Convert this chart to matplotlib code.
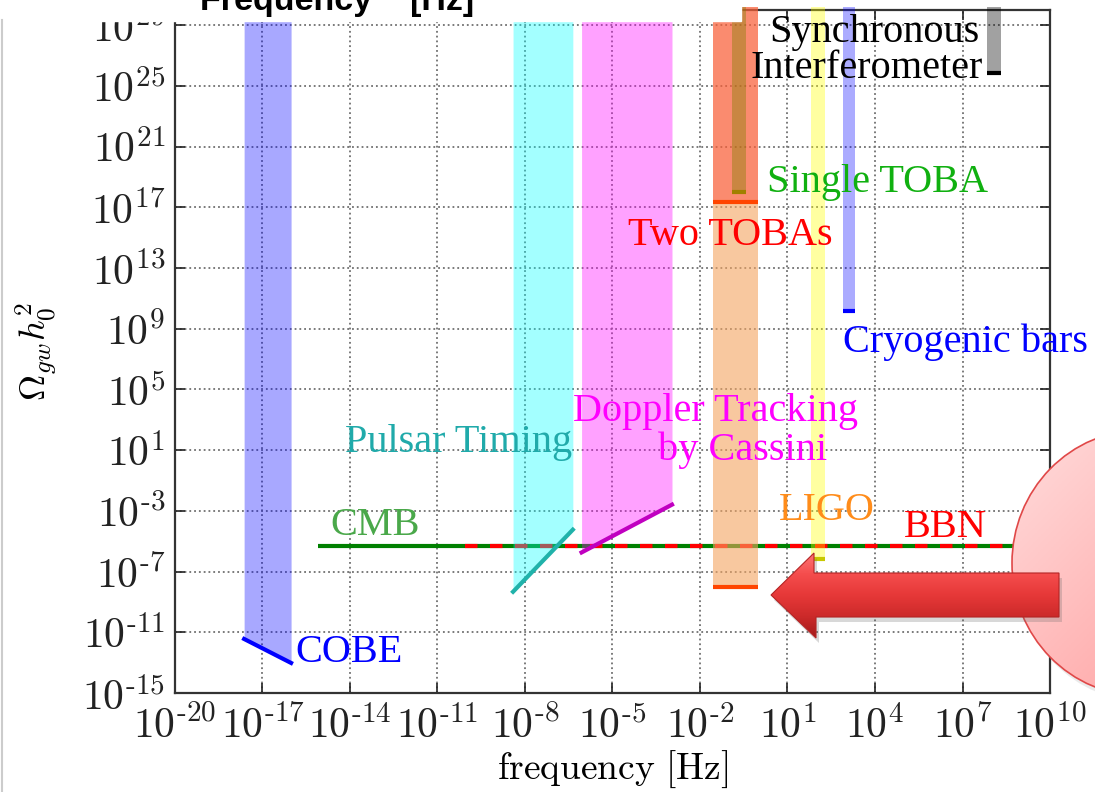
import numpy as np
import matplotlib.pyplot as plt
from matplotlib.patches import Polygon, Ellipse, Rectangle
from matplotlib.colors import LinearSegmentedColormap
from matplotlib.ticker import FixedLocator, FuncFormatter, NullLocator

plt.rcParams['mathtext.fontset'] = 'cm'
SERIF = 'Liberation Serif'

# all values are log10; f in Hz, omega = Omega_gw h0^2
TOP = 30.2  # bands run up past the frame

# sloped lower limits, (start, end)
cobe_f, cobe_om = [-17.63, -16.02], [-11.44, -13.02]
pulsar_f, pulsar_om = [-8.41, -6.36], [-8.33, -4.24]
doppler_f, doppler_om = [-6.06, -2.96], [-5.74, -2.59]

# flat lower limits: frequency window and floor
two_toba_f, two_toba_om = [-1.56, 0.0], -8.0
two_toba_hi_om = 17.35
single_toba_f, single_toba_om = [-0.90, -0.43], 18.0
ligo_f, ligo_om = [1.79, 2.27], -6.2
cryo_f, cryo_om = [2.89, 3.30], 10.15
sync_f, sync_om = [7.84, 8.32], 25.86

# CMB / BBN integrated bounds
cmb_f, bbn_f, cmb_om = [-15.1, 10.0], [-10.05, 10.0], -5.3

xticks = np.arange(-20, 11, 3)
yticks = np.arange(-15, 30, 4)


def p(v):
    return 10.0 ** np.asarray(v, dtype=float)


fig = plt.figure(figsize=(10.95, 7.92), dpi=100)
ax = fig.add_axes([175 / 1095, 99 / 792, 875 / 1095, 683 / 792])
ax.set_xscale('log')
ax.set_yscale('log')

ax.plot(p(cmb_f), p([cmb_om] * 2), color='green', lw=3, solid_capstyle='butt', zorder=2)
ax.plot(p(bbn_f), p([cmb_om] * 2), color='red', lw=3, dashes=(3, 3), zorder=2.1)

# sloped bands
for f, om, c, a, lc in [(cobe_f, cobe_om, 'blue', 0.34, 'blue'),
                        (pulsar_f, pulsar_om, 'cyan', 0.36, '#20b2aa'),
                        (doppler_f, doppler_om, 'magenta', 0.37, '#c000c0')]:
    ax.fill_between(p(f), p(om), p(TOP), color=c, alpha=a, lw=0, zorder=3, clip_on=False)
    ax.plot(p(f), p(om), color=lc, lw=3, zorder=5)

# flat bands
for f, om, c, a, lc in [(two_toba_f, two_toba_om, '#f4a460', 0.6, '#ff4500'),
                        (two_toba_f, two_toba_hi_om, 'red', 0.3, '#ff4500'),
                        (single_toba_f, single_toba_om, 'olive', 0.4, '#a08000'),
                        (ligo_f, ligo_om, 'yellow', 0.37, '#c8c800'),
                        (cryo_f, cryo_om, 'blue', 0.33, 'blue'),
                        (sync_f, sync_om, 'black', 0.37, 'black')]:
    ax.fill_between(p(f), p(om), p(TOP), color=c, alpha=a, lw=0, zorder=3, clip_on=False)
    ax.plot(p(f), p([om, om]), color=lc, lw=3, solid_capstyle='butt', zorder=5)

ax.set_xlim(1e-20, 1e10)
ax.set_ylim(1e-15, 1e30)
ax.xaxis.set_major_locator(FixedLocator(p(xticks)))
ax.yaxis.set_major_locator(FixedLocator(p(yticks)))
ax.xaxis.set_minor_locator(NullLocator())
ax.yaxis.set_minor_locator(NullLocator())


def fmt(v, pos):
    e = int(round(np.log10(v)))
    s = str(e).replace('-', r'\text{-}')
    return r'$10^{%s}$' % s


ax.xaxis.set_major_formatter(FuncFormatter(fmt))
ax.yaxis.set_major_formatter(FuncFormatter(fmt))
ax.tick_params(which='both', direction='in', length=7, width=1.2, top=True, right=True,
               labelsize=30, pad=7, colors='#222222')
ax.tick_params(axis='x', pad=9)
ax.grid(True, ls=':', color='#707070', lw=1.3)
for s in ax.spines.values():
    s.set_linewidth(1.6)
    s.set_color('#333333')
ax.set_xlabel(r'$\mathrm{frequency\ [Hz]}$', fontsize=27, labelpad=1)
ax.set_ylabel(r'$\Omega_{gw}h_0^2$', fontsize=26, labelpad=16)

# overlay in pixel coordinates for labels and slide decorations
ov = fig.add_axes([0, 0, 1, 1], zorder=10)
ov.set_xlim(0, 1095)
ov.set_ylim(792, 0)
ov.axis('off')

labels = [
    ('COBE', 295, 662, 'blue'),
    ('CMB', 330, 535, '#4aa84a'),
    ('Pulsar Timing', 345, 452, '#20aaaa'),
    ('Doppler Tracking', 573, 421, 'magenta'),
    ('by Cassini', 658, 460, 'magenta'),
    ('LIGO', 779, 520, '#ff8c1a'),
    ('BBN', 904, 537, 'red'),
    ('Two TOBAs', 628, 245, 'red'),
    ('Single TOBA', 767, 192, '#10b010'),
    ('Cryogenic bars', 843, 352, 'blue'),
    ('Synchronous', 769, 42, 'black'),
    ('Interferometer', 750, 78, 'black'),
]
for t, x, y, c in labels:
    ov.text(x, y, t, color=c, fontsize=29, family=SERIF, ha='left', va='baseline')

# slide leftovers: white strip with clipped heading, grey border
ov.add_patch(Rectangle((0, 0), 741, 21, color='white', zorder=1))
ov.text(200, 10, 'Frequency    [Hz]', fontsize=24.5, weight='bold', family='Liberation Sans',
        ha='left', va='baseline', zorder=2)
ov.plot([1.5, 1.5], [20, 792], color='#cccccc', lw=1.5)

# big pink ellipse with gradient
ell = Ellipse((1142, 563), 260, 266, facecolor='none', edgecolor='#e04848', lw=1.2, zorder=3)
ov.add_patch(Ellipse((1146, 569), 260, 266, facecolor='#999999', alpha=0.2, lw=0, zorder=2))
gx, gy = np.meshgrid(np.linspace(0, 1, 100), np.linspace(0, 1, 100))
grad = (gx + gy) / 2
im = ov.imshow(grad, extent=(1012, 1272, 696, 430), aspect='auto', zorder=2.5,
               cmap=LinearSegmentedColormap.from_list('pk', ['#ffdcdc', '#ffbaba', '#ff9898']))
ov.add_patch(ell)
im.set_clip_path(ell)

# red block arrow pointing left
arrow_xy = [(771, 595), (814, 553), (814, 573), (1059, 573), (1059, 617),
            (816, 617), (816, 638)]
ov.add_patch(Polygon([(x + 3, y + 5) for x, y in arrow_xy], facecolor='#666666', alpha=0.25,
                     lw=0, zorder=4))
arr = Polygon(arrow_xy, facecolor='none', edgecolor='#b42424', lw=0.8, zorder=6)
ag = np.linspace(0, 1, 100).reshape(-1, 1)
im2 = ov.imshow(ag, extent=(771, 1059, 638, 553), aspect='auto', zorder=5,
                cmap=LinearSegmentedColormap.from_list(
                    'rd', ['#ff7474', '#f44c4c', '#e63838', '#cc2a2a', '#a41a1a']))
ov.add_patch(arr)
im2.set_clip_path(arr)
ov.set_xlim(0, 1095)
ov.set_ylim(792, 0)

fig.savefig('out.png', dpi=100)
